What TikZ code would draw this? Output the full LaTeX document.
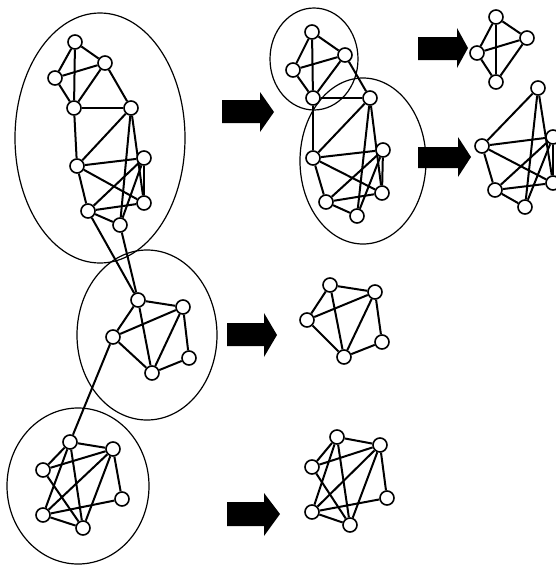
\documentclass[tikz,border=0pt]{standalone}
\usetikzlibrary{backgrounds}
\begin{document}
\begin{tikzpicture}[x=1pt,y=-1pt,
  vtx/.style={circle,draw=black,fill=white,line width=1.6pt,minimum size=14pt,inner sep=0pt},
  edge/.style={line width=2pt},
  group/.style={line width=1.2pt},
  blockarrow/.style={fill=black}]
\useasboundingbox (0,0) rectangle (555,565);
% vertices
\foreach \n/\p in {A/{75,42},B/{105,63},C/{55,78},D/{74,108},E/{131,108},F/{77,166},G/{144,158},H/{144,203},I/{88,211},J/{120,225},
  P1/{138,300},P2/{183,307},P3/{113,337},P4/{189,358},P5/{152,373},
  Q1/{70,442},Q2/{113,449},Q3/{43,470},Q4/{122,499},Q5/{43,515},Q6/{83,528},
  mA/{312,32},mB/{345,55},mC/{293,70},mD/{313,98},mE/{370,98},mF/{313,158},mG/{383,150},mH/{382,193},mI/{326,202},mJ/{357,216},
  kT/{496,17},kL/{477,53},kR/{527,38},kB/{496,82},
  rT/{538,88},rL/{482,146},rG/{553,137},rH/{553,183},rI/{495,190},rJ/{525,207},
  sP1/{330,285},sP2/{375,292},sP3/{307,320},sP4/{382,342},sP5/{344,357},
  tQ1/{337,437},tQ2/{380,445},tQ3/{312,467},tQ4/{387,498},tQ5/{312,512},tQ6/{350,525}}
  \node[vtx] (\n) at (\p) {};
\begin{pgfonlayer}{background}
% group outlines
\draw[group] (100,138) ellipse [x radius=85, y radius=125];
\draw[group] (147,335) ellipse [x radius=70, y radius=85];
\draw[group] (78,486) ellipse [x radius=71, y radius=78];
\draw[group] (314,59) ellipse [x radius=44, y radius=51];
\draw[group] (363,161) ellipse [x radius=63, y radius=83];
% edges
\foreach \pre in {,m}{
  \foreach \a/\b in {A/B,A/C,A/D,B/C,B/D,C/D,B/E,D/E,D/F,E/F,E/J,E/H,F/G,F/H,F/I,G/H,G/I,G/J,I/H,I/J}
    \draw[edge] (\pre\a) -- (\pre\b);
}
\foreach \a/\b in {kT/kL,kT/kR,kT/kB,kL/kR,kL/kB,kR/kB,
  rT/rL,rT/rJ,rT/rH,rL/rG,rL/rH,rL/rI,rG/rH,rG/rI,rG/rJ,rI/rH,rI/rJ}
  \draw[edge] (\a) -- (\b);
\foreach \pre in {,s}{
  \foreach \a/\b in {P1/P2,P1/P3,P1/P5,P3/P2,P3/P5,P2/P5,P2/P4,P4/P5}
    \draw[edge] (\pre\a) -- (\pre\b);
}
\foreach \pre in {,t}{
  \foreach \a/\b in {Q1/Q2,Q1/Q3,Q1/Q5,Q1/Q6,Q3/Q2,Q3/Q6,Q5/Q2,Q5/Q6,Q5/Q4,Q2/Q6,Q2/Q4}
    \draw[edge] (\pre\a) -- (\pre\b);
}
% inter-group links
\draw[edge] (I) -- (P1);
\draw[edge] (J) -- (P1);
\draw[edge] (P3) -- (Q1);
\end{pgfonlayer}
% block arrows
\fill[blockarrow] (222,100) -- (260,100) -- (260,92) -- (274,112) -- (260,132) -- (260,123) -- (222,123) -- cycle;
\fill[blockarrow] (418,37) -- (457,37) -- (457,28) -- (468,48) -- (457,68) -- (457,60) -- (418,60) -- cycle;
\fill[blockarrow] (418,147) -- (458,147) -- (458,137) -- (471,157) -- (458,177) -- (458,168) -- (418,168) -- cycle;
\fill[blockarrow] (227,323) -- (264,323) -- (264,313) -- (277,335) -- (264,357) -- (264,346) -- (227,346) -- cycle;
\fill[blockarrow] (227,502) -- (264,502) -- (264,493) -- (280,514) -- (264,536) -- (264,526) -- (227,526) -- cycle;
\end{tikzpicture}
\end{document}
